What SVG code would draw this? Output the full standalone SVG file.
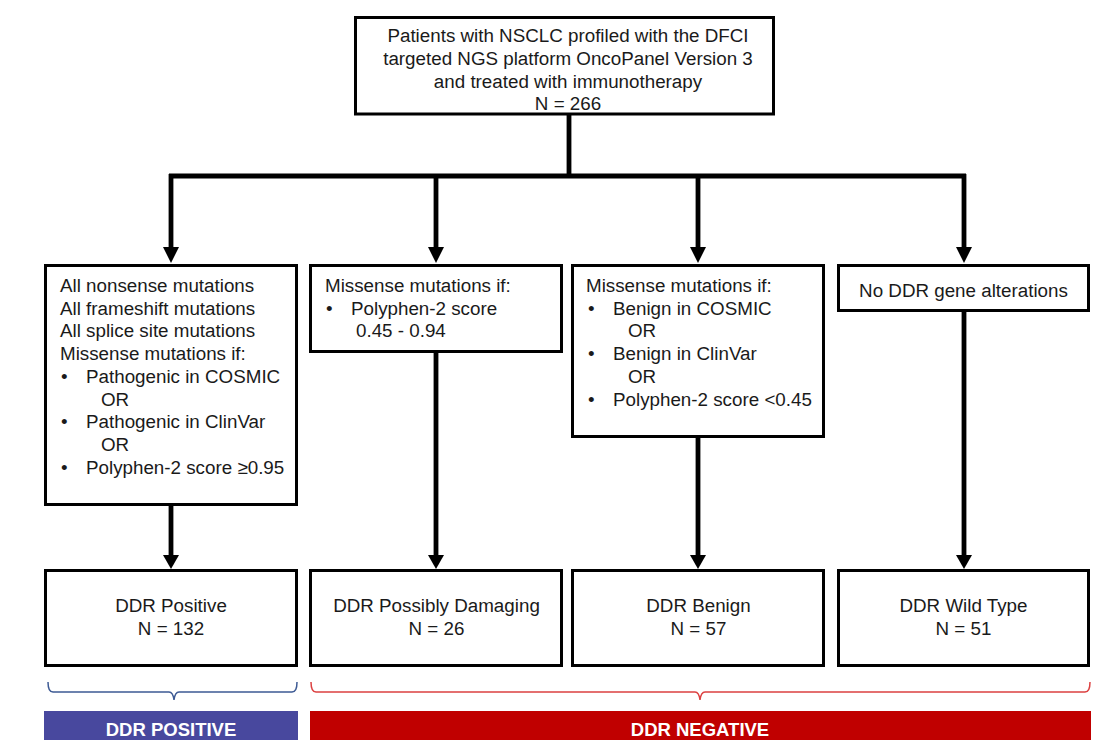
<svg xmlns="http://www.w3.org/2000/svg" width="1105" height="740" viewBox="0 0 1105 740">
<style>
.box{fill:#fff;stroke:#000;stroke-width:3}
.t{font-family:"Liberation Sans",Arial,sans-serif;font-size:18.8px;fill:#1a1a1a}
.c{text-anchor:middle}
.ln{stroke:#000;stroke-width:4.8;fill:none}
.ah{fill:#000}
.bar{font-family:"Liberation Sans",Arial,sans-serif;font-size:18.5px;font-weight:bold;fill:#fff;text-anchor:middle}
</style>
<rect width="1105" height="740" fill="#fff"/>
<g id="connectors">
<line class="ln" x1="569" y1="115" x2="569" y2="176"/>
<line class="ln" x1="169" y1="176" x2="966" y2="176" stroke-width="5"/>
<line class="ln" x1="171" y1="174" x2="171" y2="250"/>
<line class="ln" x1="436" y1="176" x2="436" y2="250"/>
<line class="ln" x1="698" y1="176" x2="698" y2="250"/>
<line class="ln" x1="964" y1="174" x2="964" y2="250"/>
<polygon class="ah" points="163,247 179,247 171,263"/>
<polygon class="ah" points="428,247 444,247 436,263"/>
<polygon class="ah" points="690,247 706,247 698,263"/>
<polygon class="ah" points="956,247 972,247 964,263"/>
<line class="ln" x1="171" y1="506" x2="171" y2="558"/>
<line class="ln" x1="436" y1="353" x2="436" y2="558"/>
<line class="ln" x1="698" y1="437" x2="698" y2="558"/>
<line class="ln" x1="964" y1="312" x2="964" y2="558"/>
<polygon class="ah" points="163,555 179,555 171,569"/>
<polygon class="ah" points="428,555 444,555 436,569"/>
<polygon class="ah" points="690,555 706,555 698,569"/>
<polygon class="ah" points="956,555 972,555 964,569"/>
</g>
<g id="top">
<rect class="box" x="355.5" y="17.5" width="418" height="96.5"/>
<text class="t c" x="568" y="42.3">Patients with NSCLC profiled with the DFCI</text>
<text class="t c" x="568" y="65">targeted NGS platform OncoPanel Version 3</text>
<text class="t c" x="568" y="87.7">and treated with immunotherapy</text>
<text class="t c" x="568" y="110.4">N = 266</text>
</g>
<g id="crit-positive">
<rect class="box" x="45.5" y="265.5" width="251" height="239"/>
<text class="t" x="60" y="292">All nonsense mutations</text>
<text class="t" x="60" y="314.7">All frameshift mutations</text>
<text class="t" x="60" y="337.4">All splice site mutations</text>
<text class="t" x="60" y="360.1">Missense mutations if:</text>
<text class="t" x="61" y="382.8">•</text><text class="t" x="86" y="382.8">Pathogenic in COSMIC</text>
<text class="t" x="101" y="405.5">OR</text>
<text class="t" x="61" y="428.2">•</text><text class="t" x="86" y="428.2">Pathogenic in ClinVar</text>
<text class="t" x="101" y="450.9">OR</text>
<text class="t" x="61" y="473.6">•</text><text class="t" x="86" y="473.6">Polyphen-2 score ≥0.95</text>
</g>
<g id="crit-possibly">
<rect class="box" x="310.5" y="265.5" width="251" height="86"/>
<text class="t" x="325" y="292">Missense mutations if:</text>
<text class="t" x="326" y="314.7">•</text><text class="t" x="351" y="314.7">Polyphen-2 score</text>
<text class="t" x="356" y="337.4">0.45 - 0.94</text>
</g>
<g id="crit-benign">
<rect class="box" x="572.5" y="265.5" width="251" height="171"/>
<text class="t" x="586" y="292">Missense mutations if:</text>
<text class="t" x="588" y="314.7">•</text><text class="t" x="613" y="314.7">Benign in COSMIC</text>
<text class="t" x="628" y="337.4">OR</text>
<text class="t" x="588" y="360.1">•</text><text class="t" x="613" y="360.1">Benign in ClinVar</text>
<text class="t" x="628" y="382.8">OR</text>
<text class="t" x="588" y="405.5">•</text><text class="t" x="613" y="405.5">Polyphen-2 score &lt;0.45</text>
</g>
<g id="crit-wild">
<rect class="box" x="838.5" y="265.5" width="250" height="45"/>
<text class="t c" x="963.5" y="296.7">No DDR gene alterations</text>
</g>
<g id="res-positive">
<rect class="box" x="45.5" y="570.5" width="251" height="95"/>
<text class="t c" x="171" y="611.7">DDR Positive</text>
<text class="t c" x="171" y="635">N = 132</text>
</g>
<g id="res-possibly">
<rect class="box" x="310.5" y="570.5" width="251" height="95"/>
<text class="t c" x="436.5" y="611.7">DDR Possibly Damaging</text>
<text class="t c" x="436.5" y="635">N = 26</text>
</g>
<g id="res-benign">
<rect class="box" x="572.5" y="570.5" width="251" height="95"/>
<text class="t c" x="698.5" y="611.7">DDR Benign</text>
<text class="t c" x="698.5" y="635">N = 57</text>
</g>
<g id="res-wild">
<rect class="box" x="838.5" y="570.5" width="250" height="95"/>
<text class="t c" x="963.5" y="611.7">DDR Wild Type</text>
<text class="t c" x="963.5" y="635">N = 51</text>
</g>
<g id="brace-positive">
<path d="M48,682 Q48,692 53,692 L169,692 Q173,692 174,700 Q175,692 179,692 L292,692 Q297,692 297,682" fill="none" stroke="#3d5a94" stroke-width="1.5"/>
</g>
<g id="brace-negative">
<path d="M311,682 Q311,692 316,692 L695,692 Q699,692 700,700 Q701,692 705,692 L1085,692 Q1090,692 1090,682" fill="none" stroke="#dc4040" stroke-width="1.5"/>
</g>
<g id="label-positive">
<rect x="44" y="711" width="254" height="30" fill="#48489e"/>
<text class="bar" x="171" y="736">DDR POSITIVE</text>
</g>
<g id="label-negative">
<rect x="310" y="711" width="781" height="30" fill="#c00000"/>
<text class="bar" x="700" y="736">DDR NEGATIVE</text>
</g>
</svg>
